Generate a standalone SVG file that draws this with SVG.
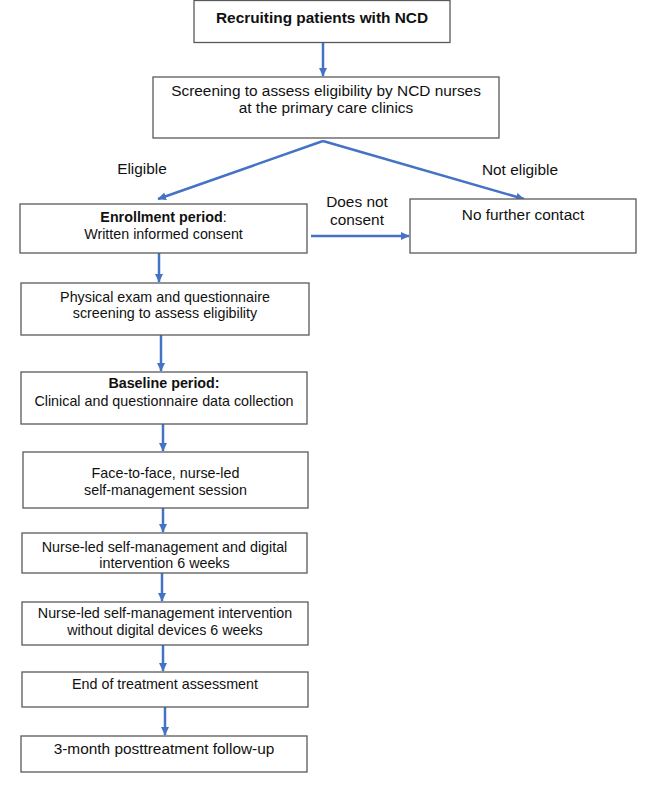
<svg xmlns="http://www.w3.org/2000/svg" width="664" height="799" viewBox="0 0 664 799">
<style>
.box{fill:#fff;stroke:#5a5a5a;stroke-width:1.3}
text{font-family:"Liberation Sans",Arial,sans-serif;fill:#111;text-anchor:middle}
.l{font-size:15.4px}
.m{font-size:14.3px}
.b{font-weight:bold}
.c{fill:none;stroke:#4472C4;stroke-width:2.5}
</style>
<defs>
<marker id="ah" markerUnits="userSpaceOnUse" markerWidth="9" markerHeight="9" refX="8" refY="4.5" orient="auto" viewBox="0 0 9 9">
<path d="M0,0.5 L8.5,4.5 L0,8.5 z" fill="#4472C4"/>
</marker>
</defs>
<rect width="664" height="799" fill="#fff"/>
<g id="connectors">
<line class="c" x1="323" y1="42" x2="323" y2="76" marker-end="url(#ah)"/>
<polyline class="c" points="323,141 158,199" marker-end="url(#ah)"/>
<polyline class="c" points="323,141 524,199" marker-end="url(#ah)"/>
<line class="c" x1="311" y1="236" x2="409" y2="236" marker-end="url(#ah)"/>
<line class="c" x1="159" y1="253" x2="159" y2="282" marker-end="url(#ah)"/>
<line class="c" x1="161" y1="335" x2="161" y2="371" marker-end="url(#ah)"/>
<line class="c" x1="163" y1="424" x2="163" y2="451" marker-end="url(#ah)"/>
<line class="c" x1="163" y1="508" x2="163" y2="532" marker-end="url(#ah)"/>
<line class="c" x1="162" y1="573" x2="162" y2="601" marker-end="url(#ah)"/>
<line class="c" x1="163" y1="645" x2="163" y2="671" marker-end="url(#ah)"/>
<line class="c" x1="165" y1="707" x2="165" y2="735" marker-end="url(#ah)"/>
<text class="l" x="142" y="174">Eligible</text>
<text class="l" x="520" y="175">Not eligible</text>
<text class="l" x="357" y="207">Does not</text>
<text class="l" x="357" y="225">consent</text>
</g>
<g id="n1">
<rect class="box" x="194" y="0.5" width="256" height="42"/>
<text class="l b" x="322" y="22.5">Recruiting patients with NCD</text>
</g>
<g id="n2">
<rect class="box" x="153" y="77" width="346" height="61"/>
<text class="l" x="326" y="96">Screening to assess eligibility by NCD nurses</text>
<text class="l" x="326" y="113">at the primary care clinics</text>
</g>
<g id="n3">
<rect class="box" x="20" y="204" width="287" height="49"/>
<text class="m" x="163.5" y="222"><tspan class="b">Enrollment period</tspan>:</text>
<text class="m" x="163.5" y="239">Written informed consent</text>
</g>
<g id="n4">
<rect class="box" x="410" y="199" width="226" height="54"/>
<text class="l" x="523" y="220">No further contact</text>
</g>
<g id="n5">
<rect class="box" x="21" y="283" width="288" height="52"/>
<text class="m" x="165" y="302">Physical exam and questionnaire</text>
<text class="m" x="165" y="318">screening to assess eligibility</text>
</g>
<g id="n6">
<rect class="box" x="21" y="372" width="286" height="52"/>
<text class="m b" x="164" y="388">Baseline period:</text>
<text class="m" x="164" y="406">Clinical and questionnaire data collection</text>
</g>
<g id="n7">
<rect class="box" x="23" y="452" width="285" height="56"/>
<text class="m" x="165.5" y="478">Face-to-face, nurse-led</text>
<text class="m" x="165.5" y="495">self-management session</text>
</g>
<g id="n8">
<rect class="box" x="22" y="533" width="285" height="40"/>
<text class="m" x="164.5" y="552">Nurse-led self-management and digital</text>
<text class="m" x="164.5" y="568">intervention 6 weeks</text>
</g>
<g id="n9">
<rect class="box" x="22" y="602" width="286" height="43"/>
<text class="m" x="165" y="618">Nurse-led self-management intervention</text>
<text class="m" x="165" y="635">without digital devices 6 weeks</text>
</g>
<g id="n10">
<rect class="box" x="22" y="672" width="286" height="35"/>
<text class="m" x="165" y="689">End of treatment assessment</text>
</g>
<g id="n11">
<rect class="box" x="21" y="736" width="286" height="36"/>
<text class="l" x="164" y="754">3-month posttreatment follow-up</text>
</g>
</svg>
